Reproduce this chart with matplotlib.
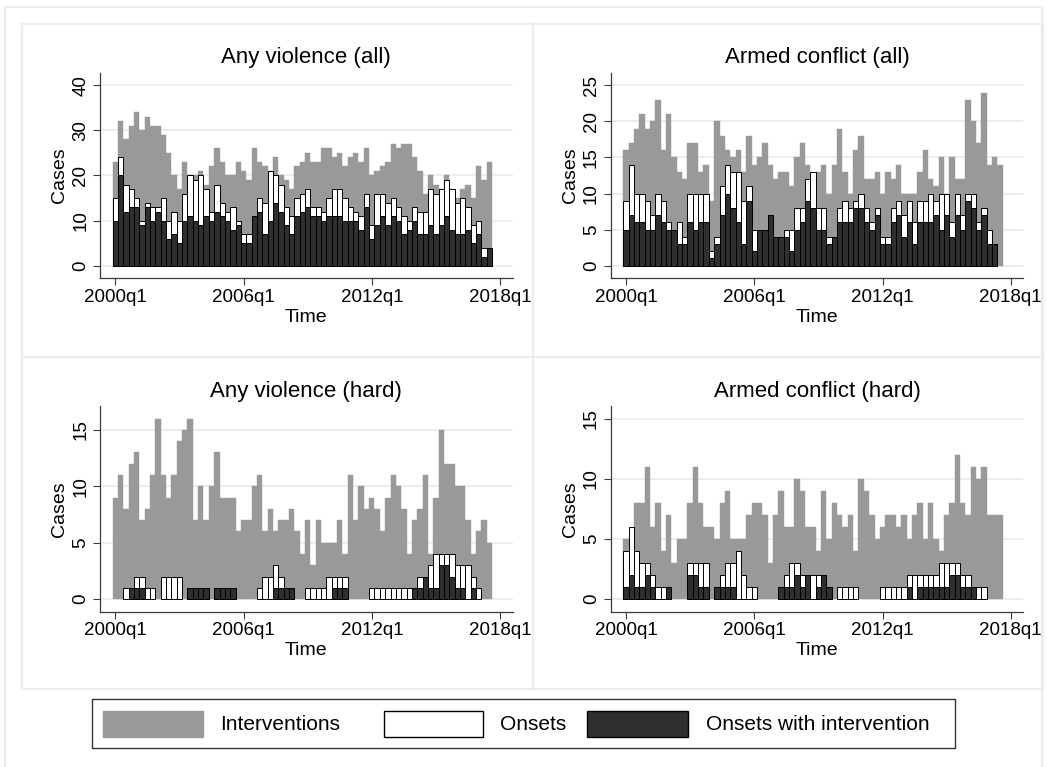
import numpy as np
import matplotlib.pyplot as plt
from matplotlib.patches import Rectangle

plt.rcParams['font.family'] = ['Liberation Sans', 'DejaVu Sans']

# quarterly counts, 2000q1 .. 2017q3
# panel 1: any violence (all)
interv_any_all = [23, 32, 28, 31, 34, 30, 33, 31, 31, 29, 25, 20, 17, 23, 20, 20, 21, 18, 22, 26,
                  23, 20, 20, 23, 21, 19, 26, 23, 22, 21, 24, 20, 19, 17, 22, 23, 25, 23, 23, 26,
                  26, 24, 25, 22, 24, 25, 23, 26, 20, 21, 22, 23, 27, 26, 27, 27, 24, 21, 16, 20,
                  18, 17, 20, 17, 15, 17, 18, 15, 22, 19, 23]
onset_any_all = [15, 24, 18, 17, 15, 10, 14, 13, 13, 15, 10, 12, 10, 16, 20, 19, 20, 17, 12, 18,
                 14, 12, 13, 10, 7, 7, 11, 15, 14, 21, 20, 18, 13, 11, 15, 16, 17, 13, 13, 12,
                 15, 17, 17, 15, 13, 12, 11, 16, 9, 16, 16, 14, 15, 13, 11, 10, 13, 12, 12, 17,
                 16, 17, 19, 17, 14, 15, 13, 9, 10, 4, 4]
both_any_all = [10, 20, 12, 13, 13, 9, 13, 10, 12, 10, 6, 7, 5, 10, 11, 10, 9, 11, 10, 12,
                11, 10, 8, 9, 5, 5, 11, 12, 7, 10, 14, 12, 9, 7, 11, 12, 13, 11, 11, 10,
                11, 11, 11, 10, 10, 10, 8, 13, 6, 9, 11, 9, 11, 10, 7, 8, 10, 7, 7, 9,
                7, 9, 11, 8, 7, 7, 8, 5, 7, 2, 4]

# panel 2: armed conflict (all)
interv_arm_all = [16, 17, 19, 21, 19, 20, 23, 16, 21, 15, 13, 12, 17, 17, 13, 14, 9, 20, 18, 16,
                  15, 16, 13, 18, 14, 15, 17, 14, 12, 13, 13, 11, 15, 17, 14, 12, 13, 14, 10, 14,
                  19, 13, 10, 16, 18, 12, 12, 13, 10, 13, 12, 14, 10, 10, 10, 13, 16, 12, 11, 15,
                  10, 15, 12, 12, 23, 20, 17, 24, 14, 15, 14]
onset_arm_all = [9, 14, 10, 10, 9, 7, 10, 9, 6, 5, 6, 4, 10, 10, 10, 10, 2, 4, 11, 14,
                 13, 13, 9, 11, 5, 5, 5, 7, 4, 4, 5, 5, 8, 8, 12, 13, 8, 8, 4, 4,
                 8, 9, 8, 9, 10, 8, 6, 8, 4, 4, 8, 9, 7, 9, 6, 9, 9, 10, 9, 10,
                 10, 6, 10, 7, 10, 10, 6, 8, 5, 3, 0]
both_arm_all = [5, 7, 6, 6, 5, 5, 7, 6, 5, 5, 3, 3, 6, 5, 6, 6, 1, 3, 7, 10,
                8, 6, 3, 9, 2, 5, 5, 7, 4, 4, 4, 2, 5, 6, 9, 8, 5, 5, 3, 4,
                6, 6, 6, 8, 8, 6, 5, 7, 3, 3, 6, 7, 4, 6, 3, 6, 6, 6, 7, 5,
                7, 4, 7, 5, 9, 8, 5, 7, 3, 3, 0]

# panel 3: any violence (hard)
interv_any_hard = [9, 11, 8, 12, 13, 7, 8, 11, 16, 11, 9, 11, 14, 15, 16, 7, 10, 7, 10, 13,
                   9, 9, 9, 6, 7, 7, 10, 11, 6, 8, 6, 7, 7, 8, 6, 4, 7, 3, 7, 5,
                   5, 5, 7, 4, 11, 7, 10, 8, 9, 8, 6, 9, 11, 10, 8, 4, 7, 8, 11, 4,
                   9, 15, 12, 12, 10, 10, 7, 4, 6, 7, 5]
onset_any_hard = [0, 0, 1, 1, 2, 2, 1, 1, 0, 2, 2, 2, 2, 0, 1, 1, 1, 1, 0, 1,
                  1, 1, 1, 0, 0, 0, 0, 1, 2, 2, 3, 2, 1, 1, 0, 0, 1, 1, 1, 1,
                  2, 2, 2, 2, 0, 0, 0, 0, 1, 1, 1, 1, 1, 1, 1, 1, 1, 2, 2, 3,
                  4, 4, 4, 4, 3, 3, 3, 2, 1, 0, 0]
both_any_hard = [0, 0, 0, 1, 1, 1, 0, 0, 0, 0, 0, 0, 0, 0, 1, 1, 1, 1, 0, 1,
                 1, 1, 1, 0, 0, 0, 0, 0, 0, 0, 1, 1, 1, 1, 0, 0, 0, 0, 0, 0,
                 0, 1, 1, 1, 0, 0, 0, 0, 0, 0, 0, 0, 0, 0, 0, 0, 1, 1, 2, 1,
                 1, 3, 3, 2, 1, 1, 0, 1, 0, 0, 0]

# panel 4: armed conflict (hard)
interv_arm_hard = [5, 5, 8, 8, 11, 6, 8, 4, 7, 3, 5, 5, 8, 11, 8, 6, 6, 5, 8, 9,
                   5, 5, 5, 7, 8, 8, 7, 3, 7, 9, 6, 6, 10, 9, 6, 6, 4, 9, 5, 8,
                   7, 6, 7, 4, 10, 9, 7, 5, 6, 7, 7, 6, 7, 5, 7, 8, 5, 8, 5, 4,
                   7, 8, 12, 8, 7, 11, 10, 11, 7, 7, 7]
onset_arm_hard = [4, 6, 4, 3, 3, 2, 1, 1, 1, 0, 0, 0, 3, 3, 3, 3, 0, 1, 2, 3,
                  3, 4, 2, 1, 1, 0, 0, 0, 0, 1, 2, 3, 3, 2, 2, 2, 2, 2, 1, 0,
                  1, 1, 1, 1, 0, 0, 0, 0, 1, 1, 1, 1, 1, 2, 2, 2, 2, 2, 2, 3,
                  3, 3, 3, 2, 2, 1, 1, 1, 0, 0, 0]
both_arm_hard = [1, 2, 1, 1, 2, 1, 0, 0, 1, 0, 0, 0, 2, 2, 1, 1, 0, 1, 1, 1,
                 1, 0, 0, 0, 0, 0, 0, 0, 0, 1, 1, 1, 2, 1, 2, 0, 1, 2, 1, 0,
                 0, 0, 0, 0, 0, 0, 0, 0, 0, 0, 0, 0, 0, 1, 0, 1, 1, 1, 1, 1,
                 1, 2, 2, 1, 1, 1, 0, 0, 0, 0, 0]

titles = ['Any violence (all)', 'Armed conflict (all)', 'Any violence (hard)', 'Armed conflict (hard)']
x_ticks = [0, 24, 48, 72]
x_labels = ['2000q1', '2006q1', '2012q1', '2018q1']
legend_labels = ['Interventions', 'Onsets', 'Onsets with intervention']

GRAY = '#999999'
DARK = '#2f2f2f'
AXC = '#3a3a3a'
FRAME = '#e6eef0'

W, H = 1047, 767
fig = plt.figure(figsize=(W / 100, H / 100), dpi=100)
fig.patch.set_facecolor('white')


def px_rect(x0, y0, x1, y1):
    # pixel box (top-left origin) -> figure fraction
    return [x0 / W, 1 - y1 / H, (x1 - x0) / W, (y1 - y0) / H]


def fig_box(x0, y0, x1, y1, **kw):
    r = px_rect(x0, y0, x1, y1)
    fig.add_artist(Rectangle((r[0], r[1]), r[2], r[3], transform=fig.transFigure, **kw))


# outer frame and sub-graph frames
fig_box(5, 7, 1042, 790, fill=False, ec=FRAME, lw=1.5)
fig_box(22, 24, 532.7, 356.7, fill=False, ec=FRAME, lw=1.5)
fig_box(532.7, 24, 1043.4, 356.7, fill=False, ec=FRAME, lw=1.5)
fig_box(22, 356.7, 532.7, 689, fill=False, ec=FRAME, lw=1.5)
fig_box(532.7, 356.7, 1043.4, 689, fill=False, ec=FRAME, lw=1.5)

panels = [
    (interv_any_all, onset_any_all, both_any_all, 40, [0, 10, 20, 30, 40], (100, 72.7, 512.7, 278.3)),
    (interv_arm_all, onset_arm_all, both_arm_all, 25, [0, 5, 10, 15, 20, 25], (610.7, 72.7, 1023.4, 278.3)),
    (interv_any_hard, onset_any_hard, both_any_hard, 16, [0, 5, 10, 15], (100, 406, 512.7, 611.7)),
    (interv_arm_hard, onset_arm_hard, both_arm_hard, 15, [0, 5, 10, 15], (610.7, 406, 1023.4, 611.7)),
]

for (interv, onset, both, ytop, yt, box), title in zip(panels, titles):
    ax = fig.add_axes(px_rect(*box))
    q = np.arange(len(interv))
    interv, onset, both = np.array(interv), np.array(onset), np.array(both)

    ax.bar(q, interv, width=1.0, color=GRAY, edgecolor=GRAY, lw=0.3, zorder=2)
    m = onset > 0
    ax.bar(q[m], onset[m], width=1.0, color='white', edgecolor='black', lw=0.7, zorder=3)
    m = both > 0
    ax.bar(q[m], both[m], width=1.0, color=DARK, edgecolor='black', lw=0.7, zorder=4)

    ypad = 0.07 * ytop
    ax.set_ylim(-ypad, ytop + ypad)
    ax.set_xlim(-2.86, 74.36)
    ax.set_yticks(yt)
    ax.set_xticks(x_ticks, x_labels)
    ax.yaxis.grid(True, color=FRAME, lw=1.3)
    ax.set_axisbelow(True)

    for s in ['top', 'right']:
        ax.spines[s].set_visible(False)
    for s in ['left', 'bottom']:
        ax.spines[s].set_color(AXC)
        ax.spines[s].set_linewidth(0.9)
    ax.tick_params(direction='out', length=5, width=0.8, color=AXC, labelsize=13.5, pad=2.7)
    plt.setp(ax.get_yticklabels(), rotation=90, va='center')

    ax.set_title(title, fontsize=16, pad=6.8)
    ax.set_xlabel('Time', fontsize=14, labelpad=2)
    ax.set_ylabel('Cases', fontsize=14, labelpad=3)

# legend drawn as a framed row of swatches
fig_box(91.7, 699.3, 955, 747.7, fill=False, ec='#333333', lw=1.0)
swatches = [(103, 203, GRAY, GRAY, 220), (384, 483, 'white', 'black', 500), (587, 688, DARK, 'black', 706)]
for (x0, x1, fc, ec, tx), lab in zip(swatches, legend_labels):
    fig_box(x0, 710.5, x1, 737, fc=fc, ec=ec, lw=1.0)
    fig.text(tx / W, 1 - 724 / H, lab, fontsize=15, va='center', ha='left')

fig.savefig('out.png', dpi=100)
